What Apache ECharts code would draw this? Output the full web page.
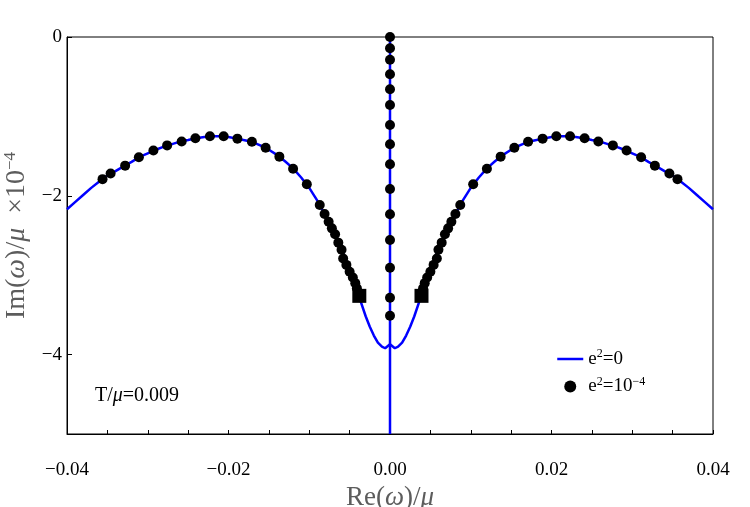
<!DOCTYPE html>
<html>
<head>
<meta charset="utf-8">
<title>Im vs Re</title>
<script src="https://cdn.jsdelivr.net/npm/echarts/dist/echarts.min.js"></script>
</head>
<body style="margin:0;background:#fff">
<div id="main" style="width:750px;height:507px;"></div>
<script type="text/javascript">

// e^2 = 0 curve (Im in units of 1e-4)
var lineRe = [-0.040, -0.039, -0.038, -0.037, -0.036, -0.035, -0.034, -0.033, -0.032, -0.031,
    -0.030, -0.029, -0.028, -0.027, -0.026, -0.025, -0.024, -0.023, -0.022, -0.021,
    -0.020, -0.019, -0.018, -0.017, -0.016, -0.015, -0.014, -0.013, -0.012, -0.011,
    -0.010, -0.009, -0.008, -0.007, -0.006, -0.005, -0.004, -0.003, -0.0025, -0.002,
    -0.0015, -0.001, -0.0006, 0, 0.0006, 0.001, 0.0015, 0.002, 0.0025, 0.003,
    0.004, 0.005, 0.006, 0.007, 0.008, 0.009, 0.010, 0.011, 0.012, 0.013,
    0.014, 0.015, 0.016, 0.017, 0.018, 0.019, 0.020, 0.021, 0.022, 0.023,
    0.024, 0.025, 0.026, 0.027, 0.028, 0.029, 0.030, 0.031, 0.032, 0.033,
    0.034, 0.035, 0.036, 0.037, 0.038, 0.039, 0.040];
var lineIm = [-2.17, -2.08, -1.99, -1.90, -1.82, -1.745, -1.69, -1.63, -1.572, -1.51,
    -1.465, -1.42, -1.381, -1.349, -1.317, -1.297, -1.275, -1.26, -1.25, -1.25,
    -1.26, -1.28, -1.30, -1.323, -1.368, -1.42, -1.485, -1.565, -1.655, -1.77,
    -1.90, -2.06, -2.25, -2.44, -2.67, -2.94, -3.22, -3.52, -3.65, -3.76,
    -3.85, -3.90, -3.92, -3.87, -3.92, -3.90, -3.85, -3.76, -3.65, -3.52,
    -3.22, -2.94, -2.67, -2.44, -2.25, -2.06, -1.90, -1.77, -1.655, -1.565,
    -1.485, -1.42, -1.368, -1.323, -1.30, -1.28, -1.26, -1.25, -1.25, -1.26,
    -1.275, -1.297, -1.317, -1.349, -1.381, -1.42, -1.465, -1.51, -1.572, -1.63,
    -1.69, -1.745, -1.82, -1.90, -1.99, -2.08, -2.17];

// e^2 = 0 purely imaginary branch
var vertRe = [0, 0];
var vertIm = [0, -5];

// e^2 = 1e-4 points
var dotRe = [-0.0356, -0.0346, -0.0328, -0.0311, -0.0293, -0.0276, -0.0258, -0.0241, -0.0223, -0.0206,
    -0.0189, -0.0171, -0.0154, -0.0137, -0.0120, -0.0103, -0.0087,
    -0.0081, -0.0076, -0.0072, -0.0068, -0.0064, -0.0060, -0.0058, -0.0054, -0.0050, -0.0046, -0.0043, -0.0041,
    0.0041, 0.0043, 0.0046, 0.0050, 0.0054, 0.0058, 0.0060, 0.0064, 0.0068, 0.0072, 0.0076, 0.0081,
    0.0087, 0.0103, 0.0120, 0.0137, 0.0154, 0.0171, 0.0189, 0.0206, 0.0223, 0.0241,
    0.0258, 0.0276, 0.0293, 0.0311, 0.0328, 0.0346, 0.0356,
    0, 0, 0, 0, 0, 0, 0, 0, 0, 0, 0, 0, 0, 0, 0];
var dotIm = [-1.79, -1.72, -1.62, -1.515, -1.43, -1.365, -1.315, -1.276, -1.25, -1.25,
    -1.28, -1.32, -1.394, -1.507, -1.66, -1.855, -2.116,
    -2.23, -2.326, -2.41, -2.485, -2.59, -2.68, -2.79, -2.87, -2.956, -3.03, -3.10, -3.165,
    -3.165, -3.10, -3.03, -2.956, -2.87, -2.79, -2.68, -2.59, -2.485, -2.41, -2.326, -2.23,
    -2.116, -1.855, -1.66, -1.507, -1.394, -1.32, -1.28, -1.25, -1.25, -1.276,
    -1.315, -1.365, -1.43, -1.515, -1.62, -1.72, -1.79,
    0, -0.142, -0.286, -0.47, -0.659, -0.856, -1.108, -1.351, -1.603, -1.914,
    -2.233, -2.557, -2.906, -3.283, -3.51];

// end points (squares)
var sqRe = [-0.0038, 0.0039];
var sqIm = [-3.26, -3.26];

// axis ticks
var xTicks = [-0.04, -0.035, -0.03, -0.025, -0.02, -0.015, -0.01, -0.005, 0,
    0.005, 0.01, 0.015, 0.02, 0.025, 0.03, 0.035, 0.04];
var xLabels = [-0.04, -0.02, 0, 0.02, 0.04];
var yTicks = [-4, -2, 0];

function zip(a, b) {
    var out = [];
    for (var i = 0; i < a.length; i++) out.push([a[i], b[i]]);
    return out;
}
function fmt(v, d) {
    var s = Math.abs(v).toFixed(d);
    return v < -1e-9 ? '\u2212' + s : s;
}

var serif = 'Liberation Serif';
var nameGray = '#5c5c5c';
var legendText = {
    'e2=0': '{b|e}{sup|2}{b|=0}',
    'e2=1e-4': '{b|e}{sup|2}{b|=10}{sup|\u22124}'
};

var myChart = echarts.init(document.getElementById('main'));

var option = {
    animation: false,
    backgroundColor: '#fff',
    grid: {
        left: 67, right: 37, top: 37, bottom: 73,
        containLabel: false,
        outerBoundsMode: 'none',
        show: true, borderColor: '#000', borderWidth: 1
    },
    legend: {
        orient: 'vertical',
        left: 551, top: 343,
        itemWidth: 26, itemHeight: 12, itemGap: 7,
        data: [
            {name: 'e2=0', itemStyle: {opacity: 0}, lineStyle: {color: '#0000ff', width: 2.5}},
            {name: 'e2=1e-4', icon: 'circle'}
        ],
        formatter: function (name) { return legendText[name]; },
        textStyle: {
            fontFamily: serif,
            rich: {
                b: {fontFamily: serif, fontSize: 19, lineHeight: 22, color: '#000'},
                sup: {fontFamily: serif, fontSize: 12, lineHeight: 12, verticalAlign: 'top', color: '#000'}
            }
        }
    },
    xAxis: {
        type: 'value',
        min: -0.04, max: 0.04,
        name: '{b|Re(}{i|\u03c9}{b|)/}{i|\u03bc}',
        nameLocation: 'middle',
        nameGap: 39,
        nameTextStyle: {
            rich: {
                b: {fontFamily: serif, fontSize: 27, color: nameGray},
                i: {fontFamily: serif, fontSize: 27, fontStyle: 'italic', color: nameGray}
            }
        },
        axisLine: {show: true, onZero: false, lineStyle: {color: '#000', width: 1}},
        axisTick: {show: true, inside: true, length: 4, customValues: xTicks, lineStyle: {color: '#000'}},
        axisLabel: {
            customValues: xLabels,
            formatter: function (v) { return fmt(v, 2); },
            margin: 27,
            fontFamily: serif, fontSize: 19, color: '#000'
        },
        splitLine: {show: false}
    },
    yAxis: {
        type: 'value',
        min: -5, max: 0,
        name: '{b|Im(}{i|\u03c9}{b|)/}{i|\u03bc}{b|  \u00d710}{sup|\u22124}',
        nameLocation: 'middle',
        nameRotate: 90,
        nameGap: 26,
        nameTextStyle: {
            rich: {
                b: {fontFamily: serif, fontSize: 28, lineHeight: 30, color: nameGray},
                i: {fontFamily: serif, fontSize: 28, lineHeight: 30, fontStyle: 'italic', color: nameGray},
                sup: {fontFamily: serif, fontSize: 17, lineHeight: 17, verticalAlign: 'top', color: nameGray}
            }
        },
        axisLine: {show: true, onZero: false, lineStyle: {color: '#000', width: 1}},
        axisTick: {show: true, inside: true, length: 5, customValues: yTicks, lineStyle: {color: '#000'}},
        axisLabel: {
            customValues: yTicks,
            formatter: function (v) { return fmt(v, 0); },
            margin: 5,
            fontFamily: serif, fontSize: 19, color: '#000'
        },
        splitLine: {show: false}
    },
    graphic: [{
        type: 'text',
        left: 95, top: 386,
        style: {
            text: '{b|T/}{i|\u03bc}{b|=0.009}',
            rich: {
                b: {fontFamily: serif, fontSize: 20, fill: '#000'},
                i: {fontFamily: serif, fontSize: 20, fontStyle: 'italic', fill: '#000'}
            }
        }
    }],
    series: [
        {
            name: 'e2=0',
            type: 'line',
            data: zip(lineRe, lineIm),
            showSymbol: false,
            symbol: 'none',
            z: 2,
            lineStyle: {color: '#0000ff', width: 2.5},
            itemStyle: {color: '#0000ff'}
        },
        {
            name: 'e2=0',
            type: 'line',
            data: zip(vertRe, vertIm),
            showSymbol: false,
            symbol: 'none',
            z: 2,
            lineStyle: {color: '#0000ff', width: 2.5},
            itemStyle: {color: '#0000ff'}
        },
        {
            name: 'e2=1e-4',
            type: 'scatter',
            data: zip(dotRe, dotIm),
            symbol: 'circle',
            symbolSize: 10,
            z: 3,
            itemStyle: {color: '#000', opacity: 1}
        },
        {
            name: 'e2=1e-4',
            type: 'scatter',
            data: zip(sqRe, sqIm),
            symbol: 'rect',
            symbolSize: 14,
            z: 3,
            itemStyle: {color: '#000', opacity: 1}
        }
    ]
};

myChart.setOption(option);
</script>
</body>
</html>
